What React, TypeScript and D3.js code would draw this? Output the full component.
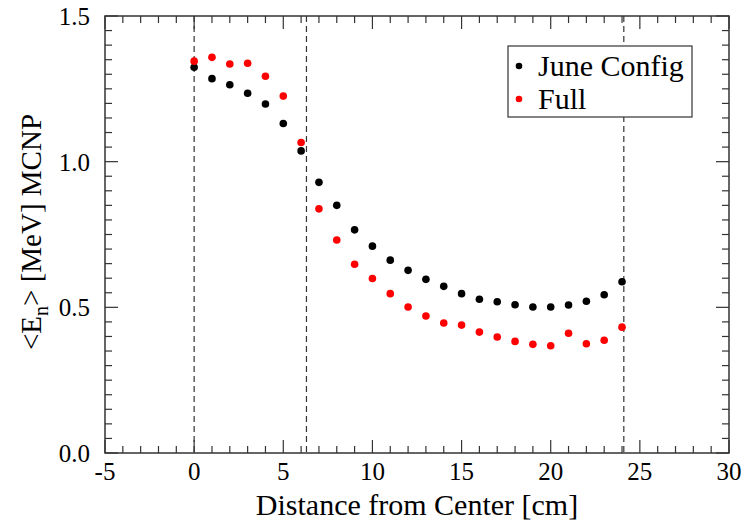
import React from "react";
import * as d3 from "d3";

const xs = [0,1,2,3,4,5,6,7,8,9,10,11,12,13,14,15,16,17,18,19,20,21,22,23,24];
const juneConfig = [1.324,1.285,1.264,1.235,1.198,1.131,1.037,0.929,0.850,0.766,0.710,0.662,0.627,0.596,0.572,0.547,0.528,0.519,0.509,0.501,0.501,0.508,0.521,0.543,0.588];
const full = [1.345,1.358,1.335,1.338,1.293,1.225,1.066,0.838,0.731,0.648,0.599,0.547,0.501,0.470,0.446,0.439,0.415,0.398,0.383,0.373,0.368,0.411,0.375,0.387,0.432];
const dashedLines = [0, 6.3, 24.1];
const xTicks = [-5, 0, 5, 10, 15, 20, 25, 30];
const yTicks = [0, 0.5, 1.0, 1.5];
const seriesNames = ["June Config", "Full"];
const seriesColors = ["#000000", "#ff0000"];

const W = 752, H = 526;
const L = 105, R = 729, T = 16, B = 453;
const FONT = "Liberation Serif";

export default function App() {
  const x = d3.scaleLinear().domain([-5, 30]).range([L, R]);
  const y = d3.scaleLinear().domain([0, 1.5]).range([B, T]);
  const xMinor = d3.range(-5, 30.001, 1);
  const yMinor = d3.range(0, 1.5001, 0.05);
  const isMajorX = (v: number) => Math.abs(v / 5 - Math.round(v / 5)) < 1e-6;
  const isMajorY = (v: number) => Math.abs(v / 0.5 - Math.round(v / 0.5)) < 1e-6;
  const axisColor = "#333";
  const series = [juneConfig, full];
  const ts = { fontFamily: FONT };
  return (
    <svg width={W} height={H} style={{ position: "absolute", left: 0, top: 0, background: "#fff", fontFamily: FONT }}>
      <rect x={0} y={0} width={W} height={H} fill="#fff" />
      {dashedLines.map((d, i) => (
        <line key={"d" + i} x1={x(d)} x2={x(d)} y1={T} y2={B} stroke="#333" strokeWidth={1.2} strokeDasharray="6,4" />
      ))}
      {xMinor.map((v, i) => {
        const len = isMajorX(v) ? 13 : 7;
        return (
          <g key={"xt" + i}>
            <line x1={x(v)} x2={x(v)} y1={B} y2={B - len} stroke={axisColor} strokeWidth={1.2} />
            <line x1={x(v)} x2={x(v)} y1={T} y2={T + len} stroke={axisColor} strokeWidth={1.2} />
          </g>
        );
      })}
      {yMinor.map((v, i) => {
        const len = isMajorY(v) ? 13 : 7;
        return (
          <g key={"yt" + i}>
            <line x1={L} x2={L + len} y1={y(v)} y2={y(v)} stroke={axisColor} strokeWidth={1.2} />
            <line x1={R} x2={R - len} y1={y(v)} y2={y(v)} stroke={axisColor} strokeWidth={1.2} />
          </g>
        );
      })}
      <rect x={L} y={T} width={R - L} height={B - T} fill="none" stroke={axisColor} strokeWidth={1.5} />
      {xTicks.map((v, i) => (
        <text key={"xl" + i} x={x(v)} y={B + 27} fontSize={25} textAnchor="middle" fill="#000" style={ts}>{v}</text>
      ))}
      {yTicks.map((v, i) => (
        <text key={"yl" + i} x={L - 15} y={y(v) + 9} fontSize={25} textAnchor="end" fill="#000" style={ts}>{v.toFixed(1)}</text>
      ))}
      <text x={(L + R) / 2} y={515} fontSize={30} textAnchor="middle" fill="#000" style={ts}>Distance from Center [cm]</text>
      <text transform={`translate(41, 232) rotate(-90)`} fontSize={29} textAnchor="middle" fill="#000" style={ts}>
        &lt;E<tspan fontSize={20} dy={7}>n</tspan><tspan dy={-7}>&gt; [MeV] MCNP</tspan>
      </text>
      {series.map((vals, s) => (
        <g key={"s" + s}>
          {vals.map((v, i) => (
            <circle key={i} cx={x(xs[i])} cy={y(v)} r={3.8} fill={seriesColors[s]} />
          ))}
        </g>
      ))}
      <rect x={508} y={46} width={184} height={71} fill="#fff" stroke={axisColor} strokeWidth={1.2} />
      {seriesNames.map((n, i) => (
        <g key={"lg" + i}>
          <circle cx={519} cy={66 + i * 33} r={3.3} fill={seriesColors[i]} />
          <text x={538} y={76 + i * 33} fontSize={30} fill="#000" style={ts}>{n}</text>
        </g>
      ))}
    </svg>
  );
}
